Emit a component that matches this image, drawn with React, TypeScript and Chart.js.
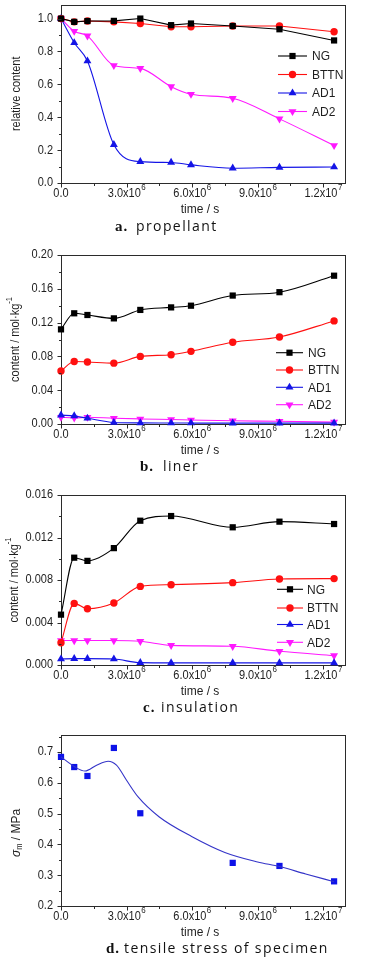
import React, { useEffect, useRef } from "react";
import { Chart, registerables } from "chart.js";

Chart.register(...registerables);

// ---------------- data ----------------
const seriesNames = ["NG", "BTTN", "AD1", "AD2"];

const timesAB = [0, 0.605e6, 1.21e6, 2.42e6, 3.63e6, 5.04e6, 5.95e6, 7.86e6, 10.0e6, 12.5e6];
const timesC = [0, 0.605e6, 1.21e6, 2.42e6, 3.63e6, 5.04e6, 7.86e6, 10.0e6, 12.5e6];
const timesD = [0, 0.605e6, 1.21e6, 2.42e6, 3.63e6, 7.86e6, 10.0e6, 12.5e6];

// a. propellant (relative content)
const aNG = [1.0, 0.98, 0.985, 0.986, 1.0, 0.96, 0.97, 0.955, 0.935, 0.867];
const aBTTN = [1.0, 0.98, 0.985, 0.98, 0.97, 0.95, 0.95, 0.955, 0.955, 0.92];
const aAD1 = [1.0, 0.853, 0.742, 0.233, 0.13, 0.125, 0.11, 0.09, 0.095, 0.097];
const aAD2 = [1.0, 0.923, 0.895, 0.715, 0.697, 0.586, 0.54, 0.515, 0.39, 0.228];

// b. liner (mol/kg)
const bNG = [0.112, 0.131, 0.129, 0.125, 0.135, 0.138, 0.14, 0.152, 0.156, 0.1755];
const bBTTN = [0.0627, 0.074, 0.0734, 0.072, 0.08, 0.082, 0.086, 0.0967, 0.103, 0.122];
const bAD1 = [0.0105, 0.0095, 0.0068, 0.0018, 0.0013, 0.0012, 0.0011, 0.001, 0.001, 0.001];
const bAD2 = [0.008, 0.0072, 0.008, 0.0068, 0.006, 0.0053, 0.0048, 0.0038, 0.0032, 0.0022];

// c. insulation (mol/kg)
const cNG = [0.00474, 0.0101, 0.0098, 0.011, 0.01358, 0.01402, 0.01296, 0.01349, 0.01327];
const cBTTN = [0.0021, 0.0058, 0.0053, 0.00584, 0.0074, 0.00756, 0.00775, 0.0081, 0.00813];
const cAD1 = [0.00056, 0.0006, 0.0006, 0.00056, 0.00022, 0.0002, 0.0002, 0.0002, 0.0002];
const cAD2 = [0.0023, 0.0023, 0.0023, 0.0023, 0.00223, 0.00185, 0.00176, 0.00129, 0.00088];

// d. tensile stress (MPa)
const dStress = [0.684, 0.651, 0.622, 0.713, 0.501, 0.34, 0.33, 0.28];
const dFitTimes = [0, 0.64e6, 1.1e6, 1.63e6, 2.16e6, 2.54e6, 3.0e6, 3.53e6, 4.5e6, 6.0e6, 7.5e6, 9.0e6, 10.0e6, 11.2e6, 12.5e6];
const dFit = [0.684, 0.651, 0.638, 0.657, 0.67, 0.657, 0.608, 0.554, 0.489, 0.425, 0.374, 0.343, 0.328, 0.304, 0.279];

// ticks
const xTickValues = [0, 3e6, 6e6, 9e6, 12e6];
const xTickMantissa = ["0.0", "3.0x10", "6.0x10", "9.0x10", "1.2x10"];
const xTickExponent = ["", "6", "6", "6", "7"];
const xMinorValues = [1.5e6, 4.5e6, 7.5e6, 10.5e6];

const yTicksA = [0, 0.2, 0.4, 0.6, 0.8, 1.0];
const yLabelsA = ["0.0", "0.2", "0.4", "0.6", "0.8", "1.0"];
const yMinorA = [0.1, 0.3, 0.5, 0.7, 0.9];

const yTicksB = [0, 0.04, 0.08, 0.12, 0.16, 0.2];
const yLabelsB = ["0.00", "0.04", "0.08", "0.12", "0.16", "0.20"];
const yMinorB = [0.02, 0.06, 0.1, 0.14, 0.18];

const yTicksC = [0, 0.004, 0.008, 0.012, 0.016];
const yLabelsC = ["0.000", "0.004", "0.008", "0.012", "0.016"];
const yMinorC = [0.002, 0.006, 0.01, 0.014];

const yTicksD = [0.2, 0.3, 0.4, 0.5, 0.6, 0.7];
const yLabelsD = ["0.2", "0.3", "0.4", "0.5", "0.6", "0.7"];
const yMinorD = [0.25, 0.35, 0.45, 0.55, 0.65, 0.75];

// ---------------- styles ----------------
const W = 376;
const PLOT_LEFT = 61;
const PLOT_RIGHT = 345;
const X_MAX = 1.3e7;
const FRAME = "#2b2b2b";
const TEXT = "#1e1e1e";
const SANS = "'Liberation Sans', Arial, Helvetica, sans-serif";
const STRETCH = 1.12;

const seriesStyle = [
  { color: "#000000", point: "rect", r: 4.4, rot: 0 },
  { color: "#ff1010", point: "circle", r: 3.7, rot: 0 },
  { color: "#1414e6", point: "triangle", r: 4.6, rot: 0 },
  { color: "#ff18ff", point: "triangle", r: 4.6, rot: 180 },
];

function toXY(xs: number[], ys: number[]) {
  return xs.map((x, i) => ({ x, y: ys[i] }));
}

function series(idx: number, xs: number[], ys: number[], smooth: boolean) {
  const s = seriesStyle[idx];
  return {
    label: seriesNames[idx],
    data: toXY(xs, ys),
    borderColor: s.color,
    backgroundColor: s.color,
    borderWidth: 1.1,
    pointStyle: s.point,
    pointRadius: s.r,
    pointRotation: s.rot,
    pointBorderWidth: 0,
    pointBackgroundColor: s.color,
    cubicInterpolationMode: smooth ? "monotone" : "default",
    tension: smooth ? 0.4 : 0,
    clip: false,
  };
}

function drawMarker(ctx: CanvasRenderingContext2D, style: string, x: number, y: number, r: number, rotDeg: number) {
  ctx.beginPath();
  if (style === "rect") {
    const s = Math.SQRT1_2 * r;
    ctx.rect(x - s, y - s, 2 * s, 2 * s);
  } else if (style === "circle") {
    ctx.arc(x, y, r, 0, Math.PI * 2);
  } else {
    let rad = (rotDeg * Math.PI) / 180;
    ctx.moveTo(x + Math.sin(rad) * r, y - Math.cos(rad) * r);
    rad += (2 * Math.PI) / 3;
    ctx.lineTo(x + Math.sin(rad) * r, y - Math.cos(rad) * r);
    rad += (2 * Math.PI) / 3;
    ctx.lineTo(x + Math.sin(rad) * r, y - Math.cos(rad) * r);
    ctx.closePath();
  }
  ctx.fill();
}

// text drawn slightly taller than wide, like the reference's condensed sans
function fillTall(ctx: CanvasRenderingContext2D, t: string, x: number, y: number) {
  ctx.save();
  ctx.translate(x, y);
  ctx.scale(1, STRETCH);
  ctx.fillText(t, 0, 0);
  ctx.restore();
}

type Seg = { t: string; font: string; dy: number };

function drawRich(ctx: CanvasRenderingContext2D, segs: Seg[], cx: number, cy: number, rotate: boolean) {
  ctx.save();
  ctx.translate(cx, cy);
  if (rotate) ctx.rotate(-Math.PI / 2);
  ctx.scale(1, STRETCH);
  let total = 0;
  for (const s of segs) {
    ctx.font = s.font;
    total += ctx.measureText(s.t).width;
  }
  let x = -total / 2;
  ctx.textBaseline = "middle";
  ctx.textAlign = "left";
  for (const s of segs) {
    ctx.font = s.font;
    ctx.fillText(s.t, x, s.dy / STRETCH);
    x += ctx.measureText(s.t).width;
  }
  ctx.restore();
}

type PanelCfg = {
  plotTop: number;
  plotBottom: number;
  yMin: number;
  yMax: number;
  yTicks: number[];
  yLabels: string[];
  yMinor: number[];
  yTitle: Seg[];
  yTitleX: number;
  yTitleY: number | null;
  legend: { x0: number; x1: number; tx: number; ys: number[] } | null;
  caption: { bx: number; bold: string; tx: number; text: string; y: number };
  datasets: any[];
};

function decorPlugin(p: PanelCfg) {
  return {
    id: "decor",
    beforeDatasetsDraw(chart: any) {
      const ctx: CanvasRenderingContext2D = chart.ctx;
      const { left, right, top, bottom } = chart.chartArea;
      ctx.save();
      ctx.strokeStyle = FRAME;
      ctx.lineWidth = 1;
      ctx.strokeRect(Math.round(left) + 0.5, Math.round(top) + 0.5, Math.round(right - left), Math.round(bottom - top));
      ctx.restore();
    },
    afterDraw(chart: any) {
      const ctx: CanvasRenderingContext2D = chart.ctx;
      const { left, bottom, top } = chart.chartArea;
      const xs = chart.scales.x;
      const ys = chart.scales.y;
      const L = Math.round(left) + 0.5;
      const B = Math.round(bottom) + 0.5;
      ctx.save();
      ctx.strokeStyle = FRAME;
      ctx.lineWidth = 1;
      ctx.beginPath();
      for (const v of xTickValues) {
        const px = Math.round(xs.getPixelForValue(v)) + 0.5;
        ctx.moveTo(px, B);
        ctx.lineTo(px, B + 4);
      }
      for (const v of xMinorValues) {
        const px = Math.round(xs.getPixelForValue(v)) + 0.5;
        ctx.moveTo(px, B);
        ctx.lineTo(px, B + 2.5);
      }
      for (const v of p.yTicks) {
        const py = Math.round(ys.getPixelForValue(v)) + 0.5;
        ctx.moveTo(L, py);
        ctx.lineTo(L - 4, py);
      }
      for (const v of p.yMinor) {
        const py = Math.round(ys.getPixelForValue(v)) + 0.5;
        ctx.moveTo(L, py);
        ctx.lineTo(L - 2.5, py);
      }
      ctx.stroke();

      ctx.fillStyle = TEXT;
      // y tick labels
      ctx.font = `11px ${SANS}`;
      ctx.textAlign = "right";
      ctx.textBaseline = "middle";
      p.yTicks.forEach((v, i) => {
        fillTall(ctx, p.yLabels[i], left - 8, ys.getPixelForValue(v));
      });
      // x tick labels
      const ly = bottom + 10.5;
      xTickValues.forEach((v, i) => {
        const px = xs.getPixelForValue(v);
        ctx.font = `11px ${SANS}`;
        const w1 = ctx.measureText(xTickMantissa[i]).width;
        ctx.font = `8px ${SANS}`;
        const w2 = ctx.measureText(xTickExponent[i]).width;
        const x0 = px - (w1 + w2) / 2;
        ctx.textAlign = "left";
        ctx.font = `11px ${SANS}`;
        fillTall(ctx, xTickMantissa[i], x0, ly);
        ctx.font = `8px ${SANS}`;
        fillTall(ctx, xTickExponent[i], x0 + w1 + 0.5, ly - 5.5);
      });
      // x title
      drawRich(ctx, [{ t: "time / s", font: `12px ${SANS}`, dy: 0 }], 200, bottom + 26.5, false);
      // y title
      const yc = p.yTitleY !== null ? p.yTitleY : (top + bottom) / 2;
      drawRich(ctx, p.yTitle, p.yTitleX, yc, true);

      // legend
      if (p.legend) {
        const lg = p.legend;
        seriesNames.forEach((name, i) => {
          const s = seriesStyle[i];
          const y = lg.ys[i];
          ctx.strokeStyle = s.color;
          ctx.lineWidth = 1.1;
          ctx.beginPath();
          ctx.moveTo(lg.x0, y);
          ctx.lineTo(lg.x1, y);
          ctx.stroke();
          ctx.fillStyle = s.color;
          drawMarker(ctx, s.point, (lg.x0 + lg.x1) / 2, y, s.r, s.rot);
          ctx.fillStyle = TEXT;
          ctx.font = `12px ${SANS}`;
          ctx.textAlign = "left";
          ctx.textBaseline = "middle";
          fillTall(ctx, name, lg.tx, y + 0.5);
        });
      }

      // caption
      const c = p.caption;
      ctx.fillStyle = "#111";
      ctx.textAlign = "left";
      ctx.textBaseline = "middle";
      ctx.font = `bold 15px 'Liberation Serif', 'DejaVu Serif', serif`;
      (ctx as any).letterSpacing = "1px";
      ctx.fillText(c.bold, c.bx, c.y);
      ctx.font = `14px 'Open Sans', 'Lato', sans-serif`;
      (ctx as any).letterSpacing = "1.4px";
      ctx.fillText(c.text, c.tx, c.y);
      (ctx as any).letterSpacing = "0px";
      ctx.restore();
    },
  };
}

function buildConfig(p: PanelCfg, H: number): any {
  return {
    type: "line",
    data: { datasets: p.datasets },
    options: {
      responsive: false,
      animation: false,
      events: [],
      layout: { padding: { left: 0, right: W - PLOT_RIGHT, top: p.plotTop, bottom: 0 } },
      plugins: { legend: { display: false }, tooltip: { enabled: false }, title: { display: false } },
      scales: {
        x: {
          type: "linear",
          min: 0,
          max: X_MAX,
          grid: { display: false },
          border: { display: false },
          ticks: { display: false },
          afterFit: (s: any) => {
            s.height = H - p.plotBottom;
          },
        },
        y: {
          type: "linear",
          min: p.yMin,
          max: p.yMax,
          grid: { display: false },
          border: { display: false },
          ticks: { display: false },
          afterFit: (s: any) => {
            s.width = PLOT_LEFT;
          },
        },
      },
    },
    plugins: [decorPlugin(p)],
  };
}

const unitTitle: Seg[] = [
  { t: "content / mol·kg", font: `11px ${SANS}`, dy: 0 },
  { t: "-1", font: `7.5px ${SANS}`, dy: -6 },
];

const panels: { top: number; height: number; cfg: PanelCfg }[] = [
  {
    top: 0,
    height: 240,
    cfg: {
      plotTop: 4,
      plotBottom: 183,
      yMin: 0,
      yMax: 1.085,
      yTicks: yTicksA,
      yLabels: yLabelsA,
      yMinor: yMinorA,
      yTitle: [{ t: "relative content", font: `11px ${SANS}`, dy: 0 }],
      yTitleX: 17,
      yTitleY: null,
      legend: { x0: 278, x1: 307, tx: 312, ys: [56, 74.5, 93, 111.5] },
      caption: { bx: 115, bold: "a.", tx: 136, text: "propellant", y: 227 },
      datasets: [
        series(0, timesAB, aNG, false),
        series(1, timesAB, aBTTN, false),
        series(2, timesAB, aAD1, true),
        series(3, timesAB, aAD2, true),
      ],
    },
  },
  {
    top: 240,
    height: 240,
    cfg: {
      plotTop: 15,
      plotBottom: 184,
      yMin: 0,
      yMax: 0.2,
      yTicks: yTicksB,
      yLabels: yLabelsB,
      yMinor: yMinorB,
      yTitle: unitTitle,
      yTitleX: 16,
      yTitleY: null,
      legend: { x0: 276, x1: 303, tx: 308, ys: [112.7, 130, 147.3, 164.7] },
      caption: { bx: 140, bold: "b.", tx: 163, text: "liner", y: 227 },
      datasets: [
        series(0, timesAB, bNG, true),
        series(1, timesAB, bBTTN, true),
        series(2, timesAB, bAD1, true),
        series(3, timesAB, bAD2, true),
      ],
    },
  },
  {
    top: 480,
    height: 240,
    cfg: {
      plotTop: 15,
      plotBottom: 185,
      yMin: 0,
      yMax: 0.016,
      yTicks: yTicksC,
      yLabels: yLabelsC,
      yMinor: yMinorC,
      yTitle: unitTitle,
      yTitleX: 15,
      yTitleY: null,
      legend: { x0: 277, x1: 303, tx: 307, ys: [109.3, 128, 144.5, 162.3] },
      caption: { bx: 143, bold: "c.", tx: 161, text: "insulation", y: 228 },
      datasets: [
        series(0, timesC, cNG, true),
        series(1, timesC, cBTTN, true),
        series(2, timesC, cAD1, true),
        series(3, timesC, cAD2, true),
      ],
    },
  },
  {
    top: 720,
    height: 242,
    cfg: {
      plotTop: 15,
      plotBottom: 186,
      yMin: 0.2,
      yMax: 0.755,
      yTicks: yTicksD,
      yLabels: yLabelsD,
      yMinor: yMinorD,
      yTitle: [
        { t: "σ", font: `italic 12px ${SANS}`, dy: 0 },
        { t: "m", font: `7.5px ${SANS}`, dy: 4 },
        { t: " / MPa", font: `12px ${SANS}`, dy: 0 },
      ],
      yTitleX: 16,
      yTitleY: 113,
      legend: null,
      caption: { bx: 106, bold: "d.", tx: 124, text: "tensile stress of specimen", y: 229 },
      datasets: [
        {
          label: "fit",
          data: toXY(dFitTimes, dFit),
          borderColor: "#3434c8",
          borderWidth: 1.1,
          pointRadius: 0,
          cubicInterpolationMode: "monotone",
          clip: false,
        },
        {
          label: "stress",
          data: toXY(timesD, dStress),
          showLine: false,
          pointStyle: "rect",
          pointRadius: 4.4,
          pointBorderWidth: 0,
          pointBackgroundColor: "#0d12e8",
          backgroundColor: "#0d12e8",
          borderColor: "#0d12e8",
          clip: false,
        },
      ],
    },
  },
];

function Panel({ top, height, cfg }: { top: number; height: number; cfg: PanelCfg }) {
  const ref = useRef<HTMLCanvasElement>(null);
  useEffect(() => {
    if (!ref.current) return;
    const chart = new Chart(ref.current, buildConfig(cfg, height));
    return () => chart.destroy();
  }, []);
  return (
    <div style={{ position: "absolute", left: 0, top, width: W, height }}>
      <canvas ref={ref} width={W} height={height} style={{ display: "block", width: W, height }} />
    </div>
  );
}

export default function App() {
  return (
    <div style={{ position: "absolute", left: 0, top: 0, width: W, height: 962, background: "#fff" }}>
      {panels.map((p, i) => (
        <Panel key={i} top={p.top} height={p.height} cfg={p.cfg} />
      ))}
    </div>
  );
}
